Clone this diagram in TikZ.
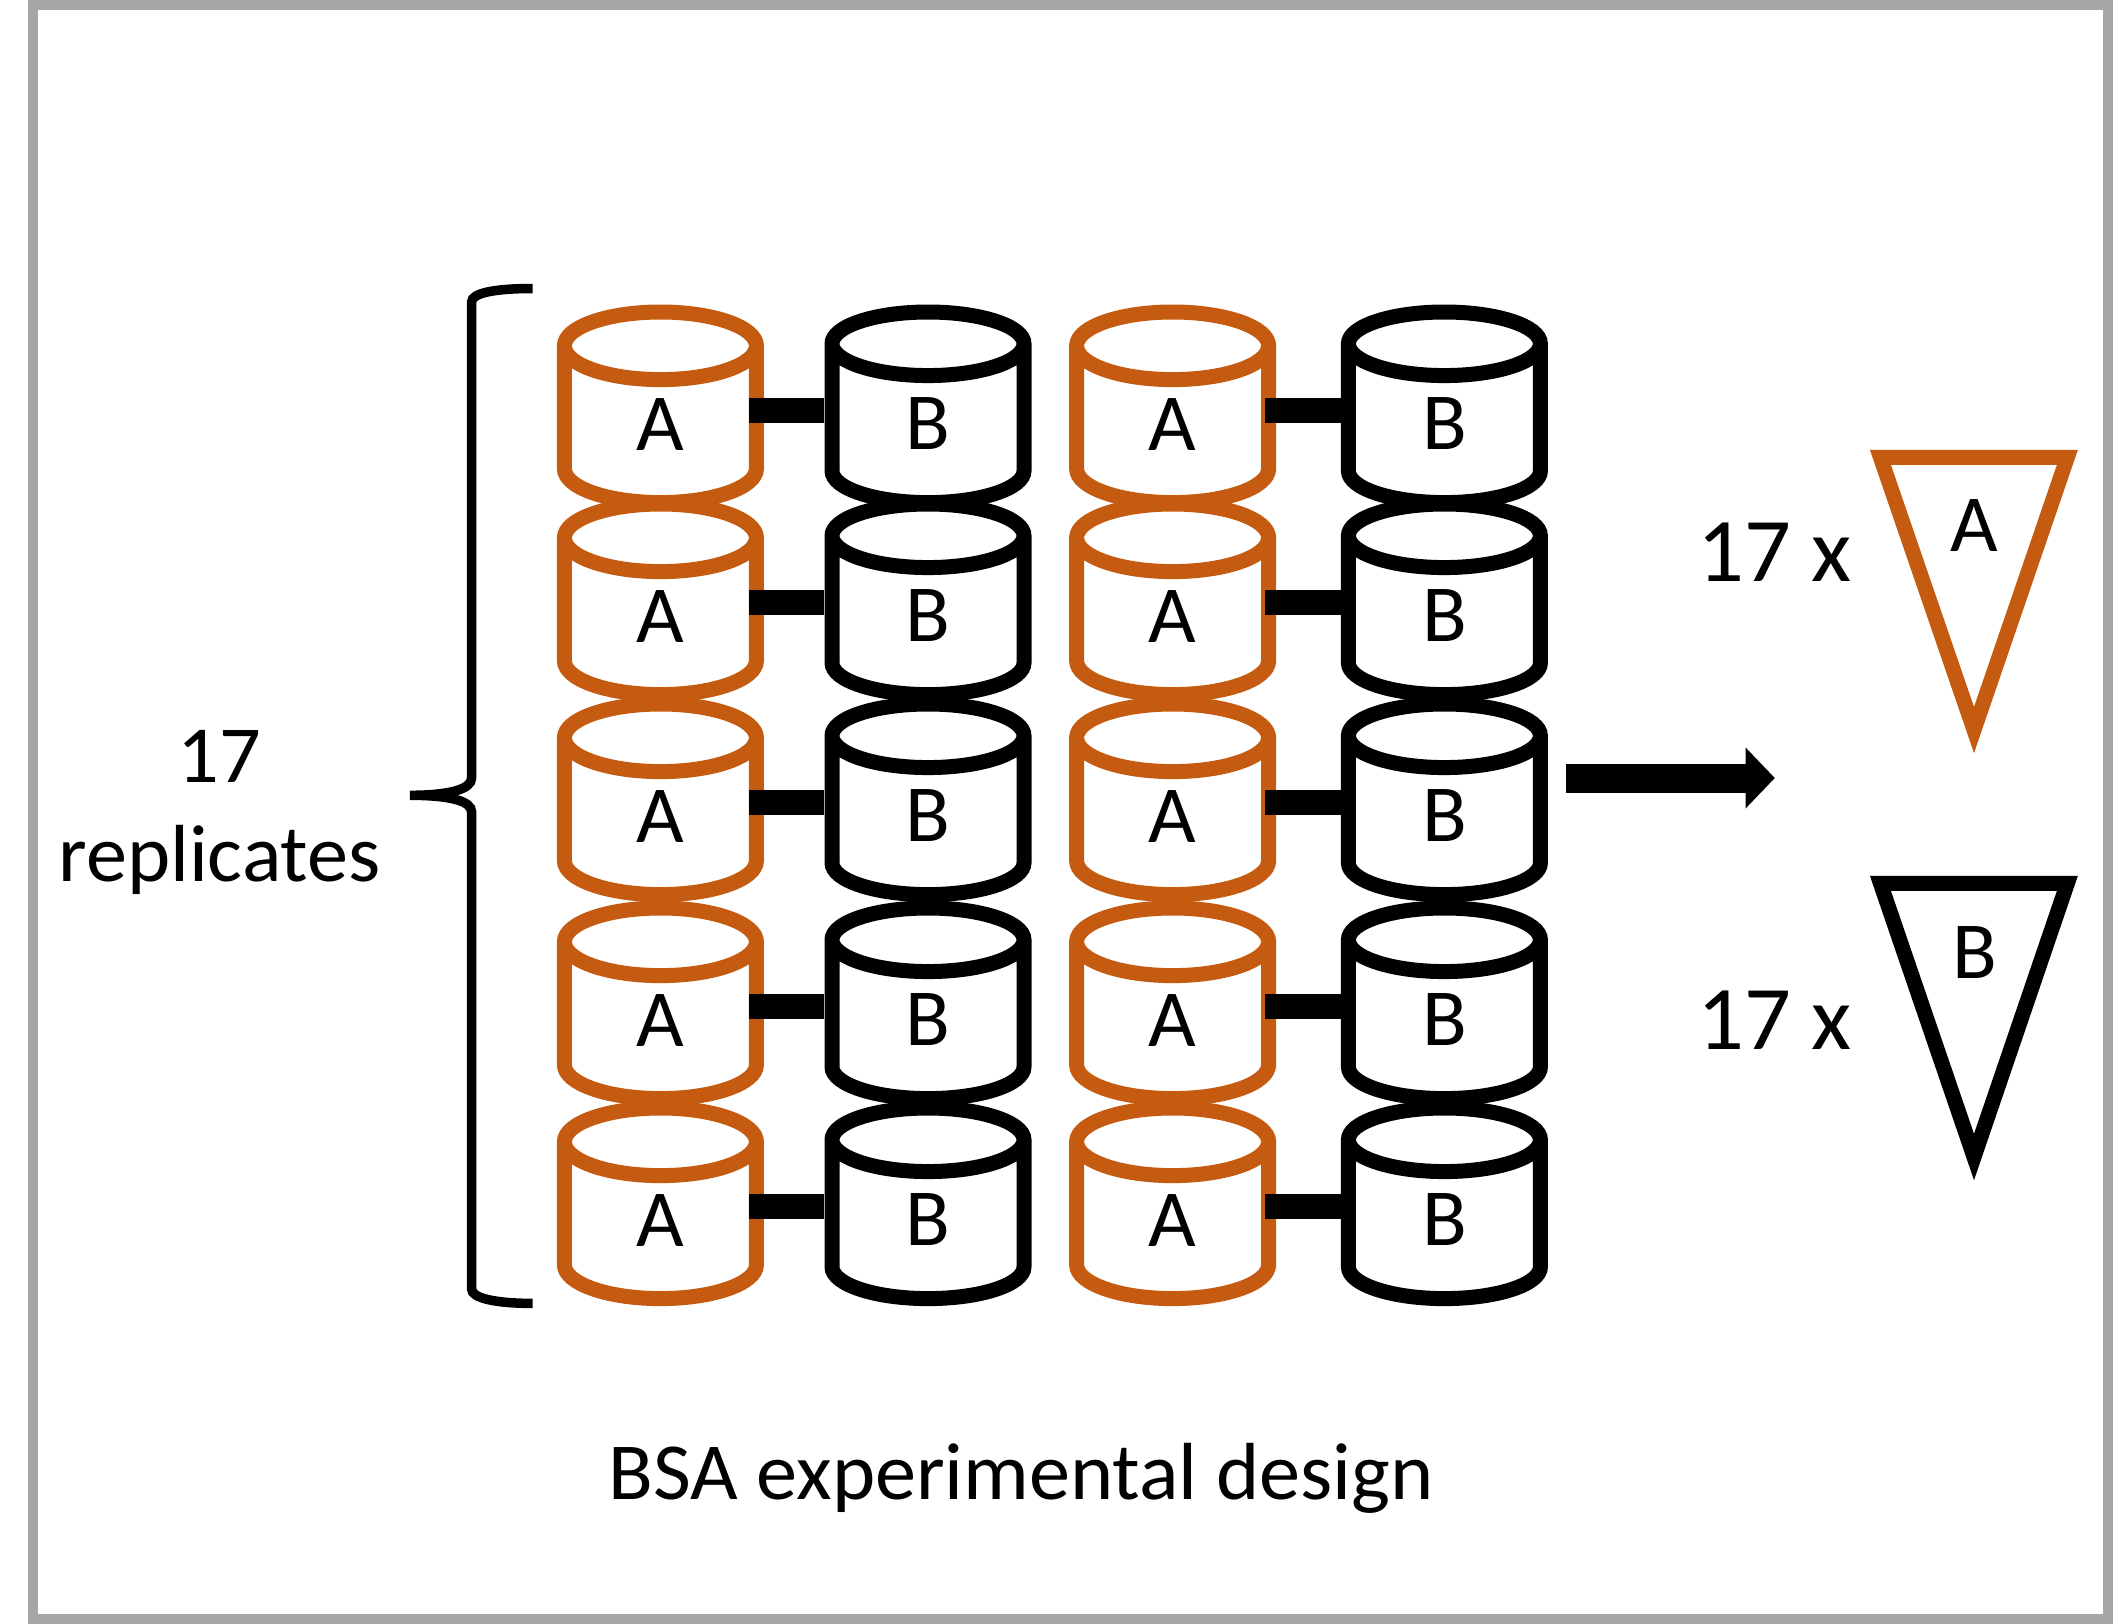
\documentclass[tikz,border=0pt]{standalone}
\usepackage{fontspec}
\setmainfont[FakeStretch=1.016]{Carlito}
\usetikzlibrary{arrows.meta, positioning, shapes.geometric}
\definecolor{tubeorange}{HTML}{C55A11}
\definecolor{framegray}{HTML}{A6A6A6}
\tikzset{
	every node/.style={
		align=center,
	},
}
\tikzstyle{tube} = [cylinder, shape border rotate=90, aspect=1.42, draw, line width=15pt, minimum width=192pt, minimum height=190.6pt, inner sep=0pt, font=\fontsize{81}{99}\selectfont, text depth=7pt, anchor=shape center]
\tikzstyle{tube-a} = [tube, draw=tubeorange, text=black]
\tikzstyle{tube-b} = [tube, draw=black, text=black]
\tikzstyle{pair-bar} = [line width=25.3pt, black]
\tikzstyle{pool-a} = [line width=15pt, tubeorange, miter limit=10]
\tikzstyle{pool-b} = [line width=15pt, black, miter limit=10]
\tikzstyle{big-label} = [font=\fontsize{81}{99}\selectfont, inner sep=0pt, anchor=base]
\tikzstyle{count-label} = [font=\fontsize{91}{99}\selectfont, inner sep=0pt, anchor=base]
\tikzstyle{pool-arrow} = [-{Triangle[length=29.3pt, width=59.4pt]}, line width=29pt, black]

\begin{document}
\begin{tikzpicture}[x=1pt, y=-1pt]
    \useasboundingbox (0,0) rectangle (2113,1624);
    \draw [line width=10pt, framegray] (33,5) rectangle (2108,1619);

    % first column
    \node (a1) [tube-a] at (660.4,407.3) {A};
    \node (a2) [tube-a] at ([yshift=-192pt] a1.shape center) {A};
    \node (a3) [tube-a] at ([yshift=-200pt] a2.shape center) {A};
    \node (a4) [tube-a] at ([yshift=-204pt] a3.shape center) {A};
    \node (a5) [tube-a] at ([yshift=-200pt] a4.shape center) {A};

    \node (b1) [tube-b] at ([xshift=267.6pt] a1.shape center) {B};
    \node (b2) [tube-b] at ([xshift=267.6pt] a2.shape center) {B};
    \node (b3) [tube-b] at ([xshift=267.6pt] a3.shape center) {B};
    \node (b4) [tube-b] at ([xshift=267.6pt] a4.shape center) {B};
    \node (b5) [tube-b] at ([xshift=267.6pt] a5.shape center) {B};

    \node (c1) [tube-a] at ([xshift=244.6pt] b1.shape center) {A};
    \node (c2) [tube-a] at ([xshift=244.6pt] b2.shape center) {A};
    \node (c3) [tube-a] at ([xshift=244.6pt] b3.shape center) {A};
    \node (c4) [tube-a] at ([xshift=244.6pt] b4.shape center) {A};
    \node (c5) [tube-a] at ([xshift=244.6pt] b5.shape center) {A};

    \node (d1) [tube-b] at ([xshift=271.8pt] c1.shape center) {B};
    \node (d2) [tube-b] at ([xshift=271.8pt] c2.shape center) {B};
    \node (d3) [tube-b] at ([xshift=271.8pt] c3.shape center) {B};
    \node (d4) [tube-b] at ([xshift=271.8pt] c4.shape center) {B};
    \node (d5) [tube-b] at ([xshift=271.8pt] c5.shape center) {B};

    % pairs
    \draw [pair-bar] ([shift={(88.8,3)}] a1.shape center) -- ([shift={(-103.8,3)}] b1.shape center);
    \draw [pair-bar] ([shift={(88.8,3)}] a2.shape center) -- ([shift={(-103.8,3)}] b2.shape center);
    \draw [pair-bar] ([shift={(88.8,3)}] a3.shape center) -- ([shift={(-103.8,3)}] b3.shape center);
    \draw [pair-bar] ([shift={(88.8,3)}] a4.shape center) -- ([shift={(-103.8,3)}] b4.shape center);
    \draw [pair-bar] ([shift={(88.8,3)}] a5.shape center) -- ([shift={(-103.8,3)}] b5.shape center);

    \draw [pair-bar] ([shift={(92.4,3)}] c1.shape center) -- ([shift={(-103.4,3)}] d1.shape center);
    \draw [pair-bar] ([shift={(92.4,3)}] c2.shape center) -- ([shift={(-103.4,3)}] d2.shape center);
    \draw [pair-bar] ([shift={(92.4,3)}] c3.shape center) -- ([shift={(-103.4,3)}] d3.shape center);
    \draw [pair-bar] ([shift={(92.4,3)}] c4.shape center) -- ([shift={(-103.4,3)}] d4.shape center);
    \draw [pair-bar] ([shift={(92.4,3)}] c5.shape center) -- ([shift={(-103.4,3)}] d5.shape center);

    % brace
    \coordinate (brace-top) at (532.7,288.5);
    \coordinate (brace-tip) at (410,795.3);
    \coordinate (brace-bot) at (532.7,1303.4);
    \draw [line width=9.5pt] (brace-top) .. controls (495,288.5) and (471.6,293) .. (471.6,302) -- (471.6,778)
        .. controls (471.6,789) and (450,795.3) .. (brace-tip) .. controls (450,795.3) and (471.6,801) .. (471.6,812)
        -- (471.6,1289) .. controls (471.6,1298) and (495,1303.4) .. (brace-bot);

    \node (rep-count) [big-label] at (219.5,782.7) {17};
    \node (rep-word) [big-label] at (219.5,881.7) {replicates};
    \node (caption) [big-label] at (1021,1499) {BSA experimental design};

    \coordinate (arrow-start) at (1566,778);
    \coordinate (arrow-end) at (1774.8,778);
    \draw [pool-arrow] (arrow-start) -- (arrow-end);

    \draw [pool-a] (1880.4,457.3) -- (2067.4,457.3) -- (1974,730) -- cycle;
    \draw [pool-b] (1880.4,883.3) -- (2067.4,883.3) -- (1974,1157) -- cycle;
    \node (pool-a-name) [big-label] at (1974,551.7) {A};
    \node (pool-b-name) [big-label] at (1975,978.3) {B};
    \node (count-a) [count-label] at (1774.5,581.7) {17 x};
    \node (count-b) [count-label] at (1774.5,1049) {17 x};
\end{tikzpicture}
\end{document}
